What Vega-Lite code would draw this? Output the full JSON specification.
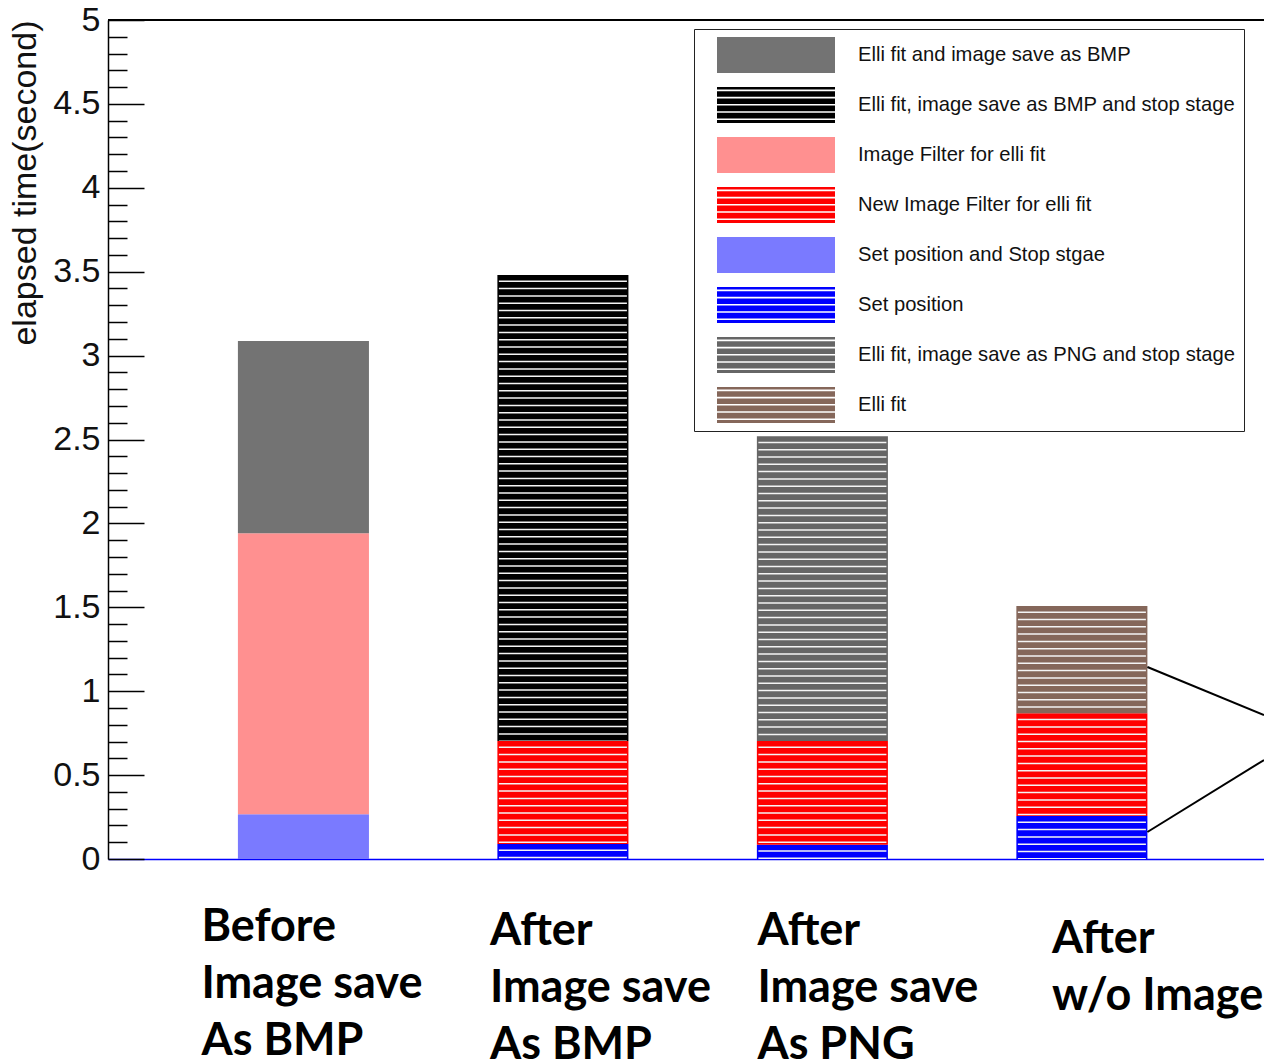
{
  "$schema": "https://vega.github.io/schema/vega-lite/v6.json",
  "width": 1156,
  "height": 839,
  "autosize": "none",
  "padding": {"left": 108, "top": 20, "right": 0, "bottom": 202},
  "background": "white",
  "config": {
    "view": {"stroke": null},
    "axisY": {
      "titleFont": "Liberation Sans", "titleFontSize": 34, "titleFontWeight": "normal", "titleColor": "#111111",
      "titleAnchor": "end", "titlePadding": 10,
      "labelFont": "Liberation Sans", "labelFontSize": 34, "labelColor": "#111111", "labelPadding": 44,
      "labelOverlap": false, "labelBound": false, "labelFlush": false,
      "grid": false, "domainColor": "#000000", "domainWidth": 1.5, "ticks": true, "tickColor": "#000000", "tickWidth": 1.5
    }
  },
  "data": {"values": [
    {"bar": "Before|Image save|As BMP", "series": "Set position and Stop stgae", "from": 0, "to": 0.266},
    {"bar": "Before|Image save|As BMP", "series": "Image Filter for elli fit", "from": 0.266, "to": 1.941},
    {"bar": "Before|Image save|As BMP", "series": "Elli fit and image save as BMP", "from": 1.941, "to": 3.087},
    {"bar": "After|Image save|As  BMP", "series": "Set position", "from": 0, "to": 0.089},
    {"bar": "After|Image save|As  BMP", "series": "New Image Filter for elli fit", "from": 0.089, "to": 0.703},
    {"bar": "After|Image save|As  BMP", "series": "Elli fit, image save as BMP and stop stage", "from": 0.703, "to": 3.48},
    {"bar": "After|Image save|As  PNG", "series": "Set position", "from": 0, "to": 0.085},
    {"bar": "After|Image save|As  PNG", "series": "New Image Filter for elli fit", "from": 0.085, "to": 0.703},
    {"bar": "After|Image save|As  PNG", "series": "Elli fit, image save as PNG and stop stage", "from": 0.703, "to": 2.52},
    {"bar": "After|w/o Image save", "series": "Set position", "from": 0, "to": 0.256},
    {"bar": "After|w/o Image save", "series": "New Image Filter for elli fit", "from": 0.256, "to": 0.868},
    {"bar": "After|w/o Image save", "series": "Elli fit", "from": 0.868, "to": 1.508}
  ]},
  "layer": [
    {
      "mark": {"type": "bar"},
      "encoding": {
        "x": {
          "field": "bar", "type": "nominal", "sort": null, "title": null,
          "scale": {"paddingInner": 0.495, "paddingOuter": 0.475, "align": 0.527},
          "axis": {
            "title": null, "orient": "bottom", "domainColor": "#0000ff", "domainWidth": 1.5, "ticks": false,
            "labelExpr": "split(datum.label, '|')", "labelAlign": "left", "labelBaseline": "top",
            "labelFont": "Lato", "labelFontWeight": "bold", "labelFontSize": 45, "labelLineHeight": 57,
            "labelColor": "#000000", "labelAngle": 0, "labelLimit": 0, "labelOverlap": false,
            "labelOffset": {"condition": [
              {"test": "datum.value === 'Before|Image save|As BMP'", "value": -102},
              {"test": "datum.value === 'After|Image save|As  BMP'", "value": -73},
              {"test": "datum.value === 'After|Image save|As  PNG'", "value": -65}
            ], "value": -30},
            "labelPadding": {"condition": [
              {"test": "datum.value === 'Before|Image save|As BMP'", "value": 45},
              {"test": "datum.value === 'After|w/o Image save'", "value": 57}
            ], "value": 49}
          }
        },
        "y": {
          "field": "to", "type": "quantitative", "title": "elapsed time(second)",
          "scale": {"domain": [0, 5], "nice": false, "zero": true},
          "axis": {
            "title": "elapsed time(second)",
            "values": [0,0.1,0.2,0.3,0.4,0.5,0.6,0.7,0.8,0.9,1,1.1,1.2,1.3,1.4,1.5,1.6,1.7,1.8,1.9,2,2.1,2.2,2.3,2.4,2.5,2.6,2.7,2.8,2.9,3,3.1,3.2,3.3,3.4,3.5,3.6,3.7,3.8,3.9,4,4.1,4.2,4.3,4.4,4.5,4.6,4.7,4.8,4.9,5],
            "format": "~g",
            "labelExpr": "abs(datum.value * 2 - round(datum.value * 2)) < 0.000001 ? datum.label : ''",
            "tickSize": {"condition": {"test": "abs(datum.value * 2 - round(datum.value * 2)) < 0.000001", "value": -36}, "value": -19}
          }
        },
        "y2": {"field": "from"},
        "color": {
          "field": "series", "type": "nominal",
          "scale": {
            "domain": ["Elli fit and image save as BMP", "Elli fit, image save as BMP and stop stage", "Image Filter for elli fit", "New Image Filter for elli fit", "Set position and Stop stgae", "Set position", "Elli fit, image save as PNG and stop stage", "Elli fit"],
            "range": ["#737373", "#000000", "#ff9090", "#ff0000", "#7a7aff", "#0000ff", "#666666", "#85675a"]
          },
          "legend": {
            "orient": "none", "legendX": 586, "legendY": 9, "title": null, "direction": "vertical",
            "fillColor": "white", "strokeColor": "#222222", "padding": 8, "cornerRadius": 0,
            "symbolType": "M-1,-0.305H1V0.305H-1Z", "symbolSize": 13924, "symbolOffset": 15, "symbolStrokeWidth": 0,
            "clipHeight": 36, "rowPadding": 14, "labelOffset": 23,
            "labelFont": "Liberation Sans", "labelFontSize": 20.2, "labelColor": "#111111", "labelLimit": 0
          }
        }
      }
    },
    {
      "transform": [{"filter": {"field": "series", "oneOf": ["Elli fit, image save as BMP and stop stage", "New Image Filter for elli fit", "Set position", "Elli fit, image save as PNG and stop stage", "Elli fit"]}}],
      "mark": {"type": "rule", "stroke": "#f4f4f4", "strokeWidth": 128, "strokeCap": "butt", "strokeDash": [1.5, 5.8], "strokeDashOffset": 1.8},
      "encoding": {
        "x": {"field": "bar", "type": "nominal", "sort": null, "title": null},
        "y": {"field": "to", "type": "quantitative", "title": "elapsed time(second)",
          "axis": {
            "title": "elapsed time(second)",
            "values": [0,0.1,0.2,0.3,0.4,0.5,0.6,0.7,0.8,0.9,1,1.1,1.2,1.3,1.4,1.5,1.6,1.7,1.8,1.9,2,2.1,2.2,2.3,2.4,2.5,2.6,2.7,2.8,2.9,3,3.1,3.2,3.3,3.4,3.5,3.6,3.7,3.8,3.9,4,4.1,4.2,4.3,4.4,4.5,4.6,4.7,4.8,4.9,5],
            "format": "~g",
            "labelExpr": "abs(datum.value * 2 - round(datum.value * 2)) < 0.000001 ? datum.label : ''",
            "tickSize": {"condition": {"test": "abs(datum.value * 2 - round(datum.value * 2)) < 0.000001", "value": -36}, "value": -19}
          }},
        "y2": {"field": "from"}
      }
    },
    {
      "transform": [{"filter": "false"}],
      "mark": {"type": "point", "filled": true, "opacity": 1},
      "encoding": {
        "x": {"field": "bar", "type": "nominal", "sort": null, "title": null},
        "y": {"field": "to", "type": "quantitative", "title": "elapsed time(second)",
          "axis": {
            "title": "elapsed time(second)",
            "values": [0,0.1,0.2,0.3,0.4,0.5,0.6,0.7,0.8,0.9,1,1.1,1.2,1.3,1.4,1.5,1.6,1.7,1.8,1.9,2,2.1,2.2,2.3,2.4,2.5,2.6,2.7,2.8,2.9,3,3.1,3.2,3.3,3.4,3.5,3.6,3.7,3.8,3.9,4,4.1,4.2,4.3,4.4,4.5,4.6,4.7,4.8,4.9,5],
            "format": "~g",
            "labelExpr": "abs(datum.value * 2 - round(datum.value * 2)) < 0.000001 ? datum.label : ''",
            "tickSize": {"condition": {"test": "abs(datum.value * 2 - round(datum.value * 2)) < 0.000001", "value": -36}, "value": -19}
          }},
        "color": {"field": "series", "type": "nominal"},
        "shape": {
          "field": "series", "type": "nominal",
          "scale": {
            "domain": ["Elli fit and image save as BMP", "Elli fit, image save as BMP and stop stage", "Image Filter for elli fit", "New Image Filter for elli fit", "Set position and Stop stgae", "Set position", "Elli fit, image save as PNG and stop stage", "Elli fit"],
            "range": [
              "M-1,-0.305H1V0.305H-1Z",
              "M-1,-0.305H1V-0.2609H-1ZM-1,-0.2338H1V-0.1389H-1ZM-1,-0.1118H1V-0.0169H-1ZM-1,0.0103H1V0.1052H-1ZM-1,0.1323H1V0.2272H-1ZM-1,0.2543H1V0.305H-1Z",
              "M-1,-0.305H1V0.305H-1Z",
              "M-1,-0.305H1V-0.2609H-1ZM-1,-0.2338H1V-0.1389H-1ZM-1,-0.1118H1V-0.0169H-1ZM-1,0.0103H1V0.1052H-1ZM-1,0.1323H1V0.2272H-1ZM-1,0.2543H1V0.305H-1Z",
              "M-1,-0.305H1V0.305H-1Z",
              "M-1,-0.305H1V-0.2609H-1ZM-1,-0.2338H1V-0.1389H-1ZM-1,-0.1118H1V-0.0169H-1ZM-1,0.0103H1V0.1052H-1ZM-1,0.1323H1V0.2272H-1ZM-1,0.2543H1V0.305H-1Z",
              "M-1,-0.305H1V-0.2609H-1ZM-1,-0.2338H1V-0.1389H-1ZM-1,-0.1118H1V-0.0169H-1ZM-1,0.0103H1V0.1052H-1ZM-1,0.1323H1V0.2272H-1ZM-1,0.2543H1V0.305H-1Z",
              "M-1,-0.305H1V-0.2609H-1ZM-1,-0.2338H1V-0.1389H-1ZM-1,-0.1118H1V-0.0169H-1ZM-1,0.0103H1V0.1052H-1ZM-1,0.1323H1V0.2272H-1ZM-1,0.2543H1V0.305H-1Z"
            ]
          }
        }
      }
    },
    {
      "mark": {"type": "rule", "color": "#000000", "strokeWidth": 1.5},
      "encoding": {
        "y": {"datum": 5, "type": "quantitative", "title": "elapsed time(second)",
          "axis": {
            "title": "elapsed time(second)",
            "values": [0,0.1,0.2,0.3,0.4,0.5,0.6,0.7,0.8,0.9,1,1.1,1.2,1.3,1.4,1.5,1.6,1.7,1.8,1.9,2,2.1,2.2,2.3,2.4,2.5,2.6,2.7,2.8,2.9,3,3.1,3.2,3.3,3.4,3.5,3.6,3.7,3.8,3.9,4,4.1,4.2,4.3,4.4,4.5,4.6,4.7,4.8,4.9,5],
            "format": "~g",
            "labelExpr": "abs(datum.value * 2 - round(datum.value * 2)) < 0.000001 ? datum.label : ''",
            "tickSize": {"condition": {"test": "abs(datum.value * 2 - round(datum.value * 2)) < 0.000001", "value": -36}, "value": -19}
          }}
      }
    },
    {
      "data": {"values": [
        {"bar": "After|w/o Image save", "y_start": 1.144, "y_end": 0.858},
        {"bar": "After|w/o Image save", "y_start": 0.161, "y_end": 0.59}
      ]},
      "mark": {"type": "rule", "color": "#000000", "strokeWidth": 2},
      "encoding": {
        "x": {"field": "bar", "type": "nominal", "sort": null, "bandPosition": 1, "title": null},
        "x2": {"value": "width"},
        "y": {"field": "y_start", "type": "quantitative", "title": "elapsed time(second)",
          "axis": {
            "title": "elapsed time(second)",
            "values": [0,0.1,0.2,0.3,0.4,0.5,0.6,0.7,0.8,0.9,1,1.1,1.2,1.3,1.4,1.5,1.6,1.7,1.8,1.9,2,2.1,2.2,2.3,2.4,2.5,2.6,2.7,2.8,2.9,3,3.1,3.2,3.3,3.4,3.5,3.6,3.7,3.8,3.9,4,4.1,4.2,4.3,4.4,4.5,4.6,4.7,4.8,4.9,5],
            "format": "~g",
            "labelExpr": "abs(datum.value * 2 - round(datum.value * 2)) < 0.000001 ? datum.label : ''",
            "tickSize": {"condition": {"test": "abs(datum.value * 2 - round(datum.value * 2)) < 0.000001", "value": -36}, "value": -19}
          }},
        "y2": {"field": "y_end"}
      }
    }
  ]
}
